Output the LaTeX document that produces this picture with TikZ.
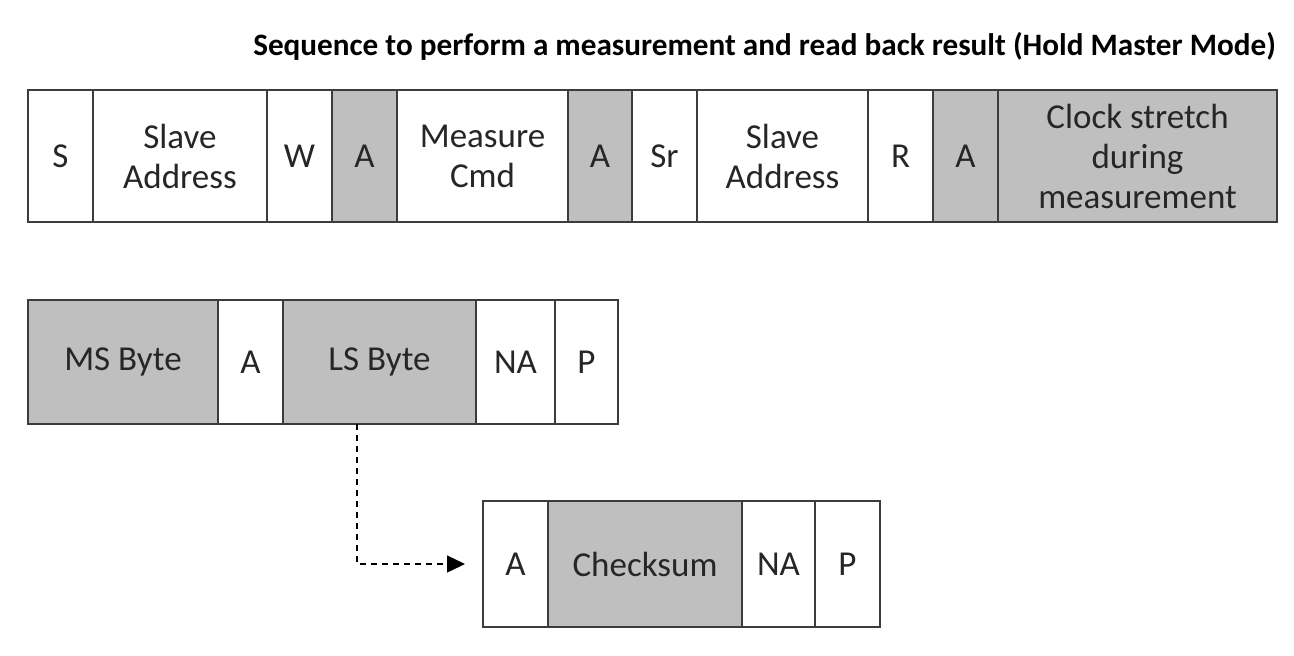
\documentclass[tikz,border=0pt]{standalone}
\usepackage{fontspec}
\setmainfont{Carlito}
\usetikzlibrary{arrows.meta, positioning}
\definecolor{cellgray}{RGB}{191,191,191}
\definecolor{lineclr}{RGB}{60,60,60}

\begin{document}
\begin{tikzpicture}[
    x=0.5pt, y=-0.5pt,
    cell/.style={rectangle, draw=lineclr, line width=0.7pt, fill=white, inner sep=0pt, outer sep=0pt, text centered, align=center, text=black!85, font=\fontsize{17.5}{20}\selectfont},
    shaded/.style={cell, fill=cellgray},
    toprow/.style={minimum height=66pt},
    midrow/.style={minimum height=62pt},
    lowrow/.style={minimum height=63pt},
    arrow/.style={line width=0.7pt, dash pattern=on 3pt off 2.5pt, -{Triangle[length=9pt, width=8.5pt]}, shorten >=9pt}
]
\useasboundingbox (0,0) rectangle (1294,655);

% Title
\node (title) [anchor=east, font=\fontsize{15.6}{18}\selectfont\bfseries] at (1283,46) {Sequence to perform a measurement and read back result (Hold Master Mode)};

% Nodes: measurement command
\node (s) [cell, toprow, minimum width=32.5pt, anchor=west] at (28,156) {S};
\node (saddr) [cell, toprow, minimum width=87pt, right=0pt of s] {Slave\\Address};
\node (w) [cell, toprow, minimum width=32.5pt, right=0pt of saddr] {W};
\node (ack1) [shaded, toprow, minimum width=32.5pt, right=0pt of w] {A};
\node (cmd) [cell, toprow, minimum width=85.5pt, right=0pt of ack1] {Measure\\Cmd};
\node (ack2) [shaded, toprow, minimum width=32pt, right=0pt of cmd] {A};
\node (sr) [cell, toprow, minimum width=32.5pt, right=0pt of ack2] {Sr};
\node (saddr2) [cell, toprow, minimum width=85.5pt, right=0pt of sr] {Slave\\Address};
\node (r) [cell, toprow, minimum width=32.5pt, right=0pt of saddr2] {R};
\node (ack3) [shaded, toprow, minimum width=32.5pt, right=0pt of r] {A};
\node (stretch) [shaded, toprow, minimum width=139.5pt, right=0pt of ack3] {Clock stretch\\during\\measurement};

% Nodes: result
\node (msb) [shaded, midrow, minimum width=95pt, anchor=west] at (28,362) {MS Byte};
\node (ack4) [cell, midrow, minimum width=32.5pt, right=0pt of msb] {A};
\node (lsb) [shaded, midrow, minimum width=96.5pt, right=0pt of ack4] {LS Byte};
\node (nack1) [cell, midrow, minimum width=39.5pt, right=0pt of lsb] {NA};
\node (stop1) [cell, midrow, minimum width=31.5pt, right=0pt of nack1] {P};

% Nodes: checksum
\node (ack5) [cell, lowrow, minimum width=32.5pt, anchor=west] at (483,564) {A};
\node (crc) [shaded, lowrow, minimum width=97pt, right=0pt of ack5] {Checksum};
\node (nack2) [cell, lowrow, minimum width=36.5pt, right=0pt of crc] {NA};
\node (stop2) [cell, lowrow, minimum width=32.5pt, right=0pt of nack2] {P};

% Arrows
\coordinate (tap) at ([xshift=37pt]lsb.south west);
\draw [arrow] (tap) |- (ack5.west);

\end{tikzpicture}
\end{document}
